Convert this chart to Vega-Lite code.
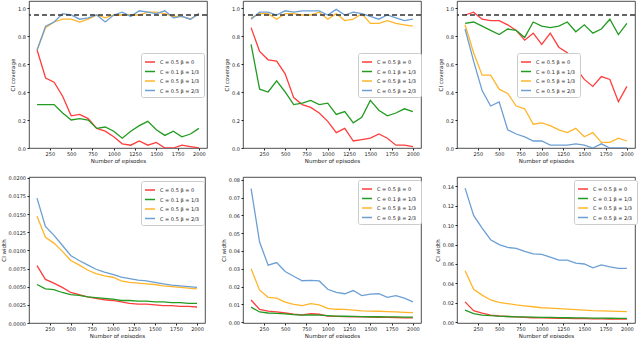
{
  "$schema": "https://vega.github.io/schema/vega-lite/v6.json",
  "padding": 0,
  "background": "white",
  "config": {
    "font": "DejaVu Sans",
    "view": {"stroke": "#222", "strokeWidth": 0.8},
    "axis": {"domain": false, "grid": false, "labelFontSize": 5, "titleFontSize": 5.5, "titleFontWeight": "normal", "labelColor": "#222", "titleColor": "#222", "tickColor": "#222", "tickSize": 2, "labelPadding": 1.5, "titlePadding": 2, "labelOverlap": false, "labelFlush": false, "labelBound": false},
    "legend": {"orient": "none", "title": null, "fillColor": "white", "strokeColor": "#cccccc", "cornerRadius": 2, "padding": 3, "labelFontSize": 5, "symbolType": "stroke", "symbolSize": 100, "symbolStrokeWidth": 1.5, "rowPadding": 0.5, "labelOffset": 4, "labelColor": "#222"}
  },
  "datasets": {
    "d": [
      {"p":"A","x":100,"r":0.70,"g":0.31,"o":0.70,"b":0.70},
      {"p":"A","x":200,"r":0.50,"g":0.31,"o":0.86,"b":0.87},
      {"p":"A","x":300,"r":0.47,"g":0.31,"o":0.90,"b":0.90},
      {"p":"A","x":400,"r":0.37,"g":0.25,"o":0.92,"b":0.96},
      {"p":"A","x":500,"r":0.23,"g":0.20,"o":0.92,"b":0.95},
      {"p":"A","x":600,"r":0.24,"g":0.21,"o":0.90,"b":0.92},
      {"p":"A","x":700,"r":0.21,"g":0.20,"o":0.92,"b":0.93},
      {"p":"A","x":800,"r":0.14,"g":0.14,"o":0.95,"b":0.95},
      {"p":"A","x":900,"r":0.12,"g":0.15,"o":0.93,"b":0.90},
      {"p":"A","x":1000,"r":0.08,"g":0.12,"o":0.95,"b":0.95},
      {"p":"A","x":1100,"r":0.03,"g":0.07,"o":0.95,"b":0.97},
      {"p":"A","x":1200,"r":0.02,"g":0.12,"o":0.95,"b":0.94},
      {"p":"A","x":1300,"r":0.05,"g":0.16,"o":0.95,"b":0.98},
      {"p":"A","x":1400,"r":0.02,"g":0.19,"o":0.97,"b":0.97},
      {"p":"A","x":1500,"r":0.04,"g":0.13,"o":0.97,"b":0.96},
      {"p":"A","x":1600,"r":0.00,"g":0.09,"o":0.96,"b":0.98},
      {"p":"A","x":1700,"r":0.00,"g":0.12,"o":0.94,"b":0.93},
      {"p":"A","x":1800,"r":0.02,"g":0.08,"o":0.94,"b":0.94},
      {"p":"A","x":1900,"r":0.01,"g":0.10,"o":0.92,"b":0.92},
      {"p":"A","x":2000,"r":0.00,"g":0.14,"o":0.96,"b":0.96},

      {"p":"B","x":100,"r":0.86,"g":0.74,"o":0.93,"b":0.92},
      {"p":"B","x":200,"r":0.69,"g":0.42,"o":0.96,"b":0.97},
      {"p":"B","x":300,"r":0.63,"g":0.40,"o":0.96,"b":0.97},
      {"p":"B","x":400,"r":0.62,"g":0.48,"o":0.92,"b":0.95},
      {"p":"B","x":500,"r":0.53,"g":0.40,"o":0.96,"b":0.98},
      {"p":"B","x":600,"r":0.36,"g":0.31,"o":0.96,"b":0.97},
      {"p":"B","x":700,"r":0.31,"g":0.32,"o":0.95,"b":0.98},
      {"p":"B","x":800,"r":0.29,"g":0.34,"o":0.95,"b":0.98},
      {"p":"B","x":900,"r":0.25,"g":0.31,"o":0.97,"b":0.98},
      {"p":"B","x":1000,"r":0.19,"g":0.32,"o":0.92,"b":0.95},
      {"p":"B","x":1100,"r":0.11,"g":0.24,"o":0.96,"b":0.99},
      {"p":"B","x":1200,"r":0.14,"g":0.26,"o":0.91,"b":0.95},
      {"p":"B","x":1300,"r":0.05,"g":0.18,"o":0.92,"b":0.97},
      {"p":"B","x":1400,"r":0.06,"g":0.22,"o":0.96,"b":0.96},
      {"p":"B","x":1500,"r":0.07,"g":0.34,"o":0.89,"b":0.94},
      {"p":"B","x":1600,"r":0.10,"g":0.27,"o":0.89,"b":0.92},
      {"p":"B","x":1700,"r":0.07,"g":0.23,"o":0.91,"b":0.95},
      {"p":"B","x":1800,"r":0.02,"g":0.25,"o":0.89,"b":0.93},
      {"p":"B","x":1900,"r":0.02,"g":0.28,"o":0.88,"b":0.91},
      {"p":"B","x":2000,"r":0.01,"g":0.26,"o":0.87,"b":0.92},

      {"p":"C","x":100,"r":0.95,"g":0.89,"o":0.88,"b":0.85},
      {"p":"C","x":200,"r":0.97,"g":0.90,"o":0.68,"b":0.62},
      {"p":"C","x":300,"r":0.92,"g":0.87,"o":0.52,"b":0.41},
      {"p":"C","x":400,"r":0.91,"g":0.84,"o":0.52,"b":0.30},
      {"p":"C","x":500,"r":0.91,"g":0.81,"o":0.42,"b":0.33},
      {"p":"C","x":600,"r":0.88,"g":0.85,"o":0.39,"b":0.13},
      {"p":"C","x":700,"r":0.84,"g":0.84,"o":0.30,"b":0.10},
      {"p":"C","x":800,"r":0.77,"g":0.79,"o":0.28,"b":0.08},
      {"p":"C","x":900,"r":0.82,"g":0.90,"o":0.17,"b":0.05},
      {"p":"C","x":1000,"r":0.74,"g":0.87,"o":0.18,"b":0.05},
      {"p":"C","x":1100,"r":0.82,"g":0.86,"o":0.16,"b":0.02},
      {"p":"C","x":1200,"r":0.72,"g":0.87,"o":0.13,"b":0.02},
      {"p":"C","x":1300,"r":0.68,"g":0.90,"o":0.11,"b":0.02},
      {"p":"C","x":1400,"r":0.57,"g":0.83,"o":0.14,"b":0.03},
      {"p":"C","x":1500,"r":0.49,"g":0.88,"o":0.08,"b":0.02},
      {"p":"C","x":1600,"r":0.44,"g":0.82,"o":0.11,"b":0.00},
      {"p":"C","x":1700,"r":0.51,"g":0.85,"o":0.04,"b":0.03},
      {"p":"C","x":1800,"r":0.49,"g":0.92,"o":0.04,"b":0.00},
      {"p":"C","x":1900,"r":0.33,"g":0.81,"o":0.07,"b":0.00},
      {"p":"C","x":2000,"r":0.44,"g":0.89,"o":0.05,"b":0.00},

      {"p":"D","x":100,"r":0.0079,"g":0.0053,"o":0.0147,"b":0.0172},
      {"p":"D","x":200,"r":0.0060,"g":0.0047,"o":0.0118,"b":0.0133},
      {"p":"D","x":300,"r":0.0055,"g":0.0046,"o":0.0110,"b":0.0121},
      {"p":"D","x":400,"r":0.0049,"g":0.0042,"o":0.0099,"b":0.0107},
      {"p":"D","x":500,"r":0.0042,"g":0.0039,"o":0.0086,"b":0.0093},
      {"p":"D","x":600,"r":0.0039,"g":0.0038,"o":0.0080,"b":0.0086},
      {"p":"D","x":700,"r":0.0036,"g":0.0036,"o":0.0073,"b":0.0080},
      {"p":"D","x":800,"r":0.0034,"g":0.0035,"o":0.0068,"b":0.0074},
      {"p":"D","x":900,"r":0.0032,"g":0.0034,"o":0.0065,"b":0.0070},
      {"p":"D","x":1000,"r":0.0031,"g":0.0033,"o":0.0063,"b":0.0067},
      {"p":"D","x":1100,"r":0.0029,"g":0.0031,"o":0.0058,"b":0.0063},
      {"p":"D","x":1200,"r":0.0027,"g":0.0031,"o":0.0056,"b":0.0061},
      {"p":"D","x":1300,"r":0.0026,"g":0.0030,"o":0.0055,"b":0.0059},
      {"p":"D","x":1400,"r":0.0026,"g":0.0030,"o":0.0054,"b":0.0058},
      {"p":"D","x":1500,"r":0.0025,"g":0.0029,"o":0.0053,"b":0.0056},
      {"p":"D","x":1600,"r":0.0024,"g":0.0029,"o":0.0051,"b":0.0054},
      {"p":"D","x":1700,"r":0.0024,"g":0.0028,"o":0.0050,"b":0.0052},
      {"p":"D","x":1800,"r":0.0023,"g":0.0028,"o":0.0049,"b":0.0051},
      {"p":"D","x":1900,"r":0.0023,"g":0.0027,"o":0.0048,"b":0.0050},
      {"p":"D","x":2000,"r":0.0022,"g":0.0027,"o":0.0047,"b":0.0049},

      {"p":"E","x":100,"r":0.0125,"g":0.0085,"o":0.030,"b":0.075},
      {"p":"E","x":200,"r":0.0072,"g":0.0058,"o":0.018,"b":0.045},
      {"p":"E","x":300,"r":0.0063,"g":0.0052,"o":0.014,"b":0.032},
      {"p":"E","x":400,"r":0.0058,"g":0.0050,"o":0.0135,"b":0.0335},
      {"p":"E","x":500,"r":0.0052,"g":0.0047,"o":0.0113,"b":0.0285},
      {"p":"E","x":600,"r":0.0045,"g":0.0043,"o":0.0100,"b":0.0258},
      {"p":"E","x":700,"r":0.0042,"g":0.0040,"o":0.0094,"b":0.0233},
      {"p":"E","x":800,"r":0.0048,"g":0.0042,"o":0.0105,"b":0.0235},
      {"p":"E","x":900,"r":0.0045,"g":0.0040,"o":0.0098,"b":0.0232},
      {"p":"E","x":1000,"r":0.0035,"g":0.0037,"o":0.0078,"b":0.0185},
      {"p":"E","x":1100,"r":0.0033,"g":0.0035,"o":0.0073,"b":0.0168},
      {"p":"E","x":1200,"r":0.0032,"g":0.0034,"o":0.0072,"b":0.0160},
      {"p":"E","x":1300,"r":0.0030,"g":0.0033,"o":0.0068,"b":0.0178},
      {"p":"E","x":1400,"r":0.0030,"g":0.0032,"o":0.0064,"b":0.0150},
      {"p":"E","x":1500,"r":0.0029,"g":0.0031,"o":0.0063,"b":0.0158},
      {"p":"E","x":1600,"r":0.0028,"g":0.0031,"o":0.0062,"b":0.0160},
      {"p":"E","x":1700,"r":0.0027,"g":0.0030,"o":0.0060,"b":0.0140},
      {"p":"E","x":1800,"r":0.0026,"g":0.0030,"o":0.0058,"b":0.0150},
      {"p":"E","x":1900,"r":0.0025,"g":0.0029,"o":0.0056,"b":0.0135},
      {"p":"E","x":2000,"r":0.0025,"g":0.0029,"o":0.0054,"b":0.0115},

      {"p":"F","x":100,"r":0.021,"g":0.0125,"o":0.053,"b":0.138},
      {"p":"F","x":200,"r":0.012,"g":0.0090,"o":0.034,"b":0.110},
      {"p":"F","x":300,"r":0.0095,"g":0.0075,"o":0.028,"b":0.097},
      {"p":"F","x":400,"r":0.0075,"g":0.0068,"o":0.023,"b":0.085},
      {"p":"F","x":500,"r":0.0065,"g":0.0063,"o":0.0205,"b":0.080},
      {"p":"F","x":600,"r":0.0060,"g":0.0060,"o":0.0192,"b":0.077},
      {"p":"F","x":700,"r":0.0055,"g":0.0057,"o":0.018,"b":0.076},
      {"p":"F","x":800,"r":0.0050,"g":0.0055,"o":0.017,"b":0.073},
      {"p":"F","x":900,"r":0.0047,"g":0.0053,"o":0.016,"b":0.0705},
      {"p":"F","x":1000,"r":0.0045,"g":0.0051,"o":0.015,"b":0.070},
      {"p":"F","x":1100,"r":0.0043,"g":0.0050,"o":0.0145,"b":0.067},
      {"p":"F","x":1200,"r":0.0041,"g":0.0049,"o":0.014,"b":0.064},
      {"p":"F","x":1300,"r":0.0040,"g":0.0047,"o":0.0135,"b":0.064},
      {"p":"F","x":1400,"r":0.0038,"g":0.0046,"o":0.013,"b":0.061},
      {"p":"F","x":1500,"r":0.0037,"g":0.0045,"o":0.0125,"b":0.060},
      {"p":"F","x":1600,"r":0.0036,"g":0.0044,"o":0.012,"b":0.056},
      {"p":"F","x":1700,"r":0.0035,"g":0.0043,"o":0.0118,"b":0.059},
      {"p":"F","x":1800,"r":0.0034,"g":0.0042,"o":0.0115,"b":0.057},
      {"p":"F","x":1900,"r":0.0033,"g":0.0041,"o":0.0112,"b":0.0555},
      {"p":"F","x":2000,"r":0.0032,"g":0.0040,"o":0.011,"b":0.0555}
    ]
  },
  "resolve": {"scale": {"color": "independent"}, "legend": {"color": "independent"}},
  "columns": 3,
  "bounds": "flush",
  "spacing": {"column": 36, "row": 29},
  "concat": [
    {"width": 178, "height": 147, "layer": [
      {"data": {"name": "d"}, "transform": [{"filter": "datum.p == 'A'"}, {"fold": ["r", "g", "o", "b"], "as": ["s", "v"]}],
       "mark": {"type": "line", "strokeWidth": 1.3, "clip": true},
       "encoding": {
         "x": {"field": "x", "type": "quantitative", "scale": {"domain": [5, 2095], "nice": false}, "axis": {"values": [250, 500, 750, 1000, 1250, 1500, 1750, 2000], "tickCount": 10, "format": "d", "title": "Number of episodes"}},
         "y": {"field": "v", "type": "quantitative", "scale": {"domain": [0, 1.05], "nice": false}, "axis": {"values": [0, 0.2, 0.4, 0.6, 0.8, 1], "tickCount": 10, "labelOverlap": false, "format": ".1f", "title": "CI coverage"}},
         "color": {"field": "s", "type": "nominal", "sort": null, "scale": {"domain": ["r", "g", "o", "b"], "range": ["#ff3d3d", "#239b23", "#ffb52a", "#6c9fd3"]},
           "legend": {"legendX": 112, "legendY": 52, "labelExpr": "datum.label == 'r' ? 'C = 0.5  β = 0' : datum.label == 'g' ? 'C = 0.1  β = 1/3' : datum.label == 'o' ? 'C = 0.5  β = 1/3' : 'C = 0.5  β = 2/3'"}}
       }},
      {"data": {"values": [{"c": 0.95}]}, "mark": {"type": "rule", "strokeDash": [5, 3], "strokeWidth": 1.3, "color": "#333"}, "encoding": {"y": {"field": "c", "type": "quantitative"}}}
    ]},
    {"width": 178, "height": 147, "layer": [
      {"data": {"name": "d"}, "transform": [{"filter": "datum.p == 'B'"}, {"fold": ["r", "g", "o", "b"], "as": ["s", "v"]}],
       "mark": {"type": "line", "strokeWidth": 1.3, "clip": true},
       "encoding": {
         "x": {"field": "x", "type": "quantitative", "scale": {"domain": [5, 2095], "nice": false}, "axis": {"values": [250, 500, 750, 1000, 1250, 1500, 1750, 2000], "tickCount": 10, "format": "d", "title": "Number of episodes"}},
         "y": {"field": "v", "type": "quantitative", "scale": {"domain": [0, 1.05], "nice": false}, "axis": {"values": [0, 0.2, 0.4, 0.6, 0.8, 1], "tickCount": 10, "labelOverlap": false, "format": ".1f", "title": "CI coverage"}},
         "color": {"field": "s", "type": "nominal", "sort": null, "scale": {"domain": ["r", "g", "o", "b"], "range": ["#ff3d3d", "#239b23", "#ffb52a", "#6c9fd3"]},
           "legend": {"legendX": 115, "legendY": 52, "labelExpr": "datum.label == 'r' ? 'C = 0.5  β = 0' : datum.label == 'g' ? 'C = 0.1  β = 1/3' : datum.label == 'o' ? 'C = 0.5  β = 1/3' : 'C = 0.5  β = 2/3'"}}
       }},
      {"data": {"values": [{"c": 0.95}]}, "mark": {"type": "rule", "strokeDash": [5, 3], "strokeWidth": 1.3, "color": "#333"}, "encoding": {"y": {"field": "c", "type": "quantitative"}}}
    ]},
    {"width": 178, "height": 147, "layer": [
      {"data": {"name": "d"}, "transform": [{"filter": "datum.p == 'C'"}, {"fold": ["r", "g", "o", "b"], "as": ["s", "v"]}],
       "mark": {"type": "line", "strokeWidth": 1.3, "clip": true},
       "encoding": {
         "x": {"field": "x", "type": "quantitative", "scale": {"domain": [5, 2095], "nice": false}, "axis": {"values": [250, 500, 750, 1000, 1250, 1500, 1750, 2000], "tickCount": 10, "format": "d", "title": "Number of episodes"}},
         "y": {"field": "v", "type": "quantitative", "scale": {"domain": [0, 1.05], "nice": false}, "axis": {"values": [0, 0.2, 0.4, 0.6, 0.8, 1], "tickCount": 10, "labelOverlap": false, "format": ".1f", "title": "CI coverage"}},
         "color": {"field": "s", "type": "nominal", "sort": null, "scale": {"domain": ["r", "g", "o", "b"], "range": ["#ff3d3d", "#239b23", "#ffb52a", "#6c9fd3"]},
           "legend": {"legendX": 60, "legendY": 52, "labelExpr": "datum.label == 'r' ? 'C = 0.5  β = 0' : datum.label == 'g' ? 'C = 0.1  β = 1/3' : datum.label == 'o' ? 'C = 0.5  β = 1/3' : 'C = 0.5  β = 2/3'"}}
       }},
      {"data": {"values": [{"c": 0.95}]}, "mark": {"type": "rule", "strokeDash": [5, 3], "strokeWidth": 1.3, "color": "#333"}, "encoding": {"y": {"field": "c", "type": "quantitative"}}}
    ]},
    {"width": 176, "height": 146, "layer": [
      {"data": {"name": "d"}, "transform": [{"filter": "datum.p == 'D'"}, {"fold": ["r", "g", "o", "b"], "as": ["s", "v"]}],
       "mark": {"type": "line", "strokeWidth": 1.3, "clip": true},
       "encoding": {
         "x": {"field": "x", "type": "quantitative", "scale": {"domain": [5, 2095], "nice": false}, "axis": {"values": [250, 500, 750, 1000, 1250, 1500, 1750, 2000], "tickCount": 10, "format": "d", "title": "Number of episodes"}},
         "y": {"field": "v", "type": "quantitative", "scale": {"domain": [0, 0.0201], "nice": false}, "axis": {"values": [0, 0.0025, 0.005, 0.0075, 0.01, 0.0125, 0.015, 0.0175, 0.02], "tickCount": 10, "format": ".4f", "title": "CI width"}},
         "color": {"field": "s", "type": "nominal", "sort": null, "scale": {"domain": ["r", "g", "o", "b"], "range": ["#ff3d3d", "#239b23", "#ffb52a", "#6c9fd3"]},
           "legend": {"legendX": 112, "legendY": 4, "labelExpr": "datum.label == 'r' ? 'C = 0.5  β = 0' : datum.label == 'g' ? 'C = 0.1  β = 1/3' : datum.label == 'o' ? 'C = 0.5  β = 1/3' : 'C = 0.5  β = 2/3'"}}
       }}
    ]},
    {"width": 178, "height": 146, "layer": [
      {"data": {"name": "d"}, "transform": [{"filter": "datum.p == 'E'"}, {"fold": ["r", "g", "o", "b"], "as": ["s", "v"]}],
       "mark": {"type": "line", "strokeWidth": 1.3, "clip": true},
       "encoding": {
         "x": {"field": "x", "type": "quantitative", "scale": {"domain": [5, 2095], "nice": false}, "axis": {"values": [250, 500, 750, 1000, 1250, 1500, 1750, 2000], "tickCount": 10, "format": "d", "title": "Number of episodes"}},
         "y": {"field": "v", "type": "quantitative", "scale": {"domain": [-0.0004, 0.0815], "nice": false}, "axis": {"values": [0, 0.01, 0.02, 0.03, 0.04, 0.05, 0.06, 0.07, 0.08], "tickCount": 10, "format": ".2f", "title": "CI width"}},
         "color": {"field": "s", "type": "nominal", "sort": null, "scale": {"domain": ["r", "g", "o", "b"], "range": ["#ff3d3d", "#239b23", "#ffb52a", "#6c9fd3"]},
           "legend": {"legendX": 115, "legendY": 3, "labelExpr": "datum.label == 'r' ? 'C = 0.5  β = 0' : datum.label == 'g' ? 'C = 0.1  β = 1/3' : datum.label == 'o' ? 'C = 0.5  β = 1/3' : 'C = 0.5  β = 2/3'"}}
       }}
    ]},
    {"width": 178, "height": 146, "layer": [
      {"data": {"name": "d"}, "transform": [{"filter": "datum.p == 'F'"}, {"fold": ["r", "g", "o", "b"], "as": ["s", "v"]}],
       "mark": {"type": "line", "strokeWidth": 1.3, "clip": true},
       "encoding": {
         "x": {"field": "x", "type": "quantitative", "scale": {"domain": [5, 2095], "nice": false}, "axis": {"values": [250, 500, 750, 1000, 1250, 1500, 1750, 2000], "tickCount": 10, "format": "d", "title": "Number of episodes"}},
         "y": {"field": "v", "type": "quantitative", "scale": {"domain": [-0.0007, 0.1495], "nice": false}, "axis": {"values": [0, 0.02, 0.04, 0.06, 0.08, 0.1, 0.12, 0.14], "tickCount": 10, "format": ".2f", "title": "CI width"}},
         "color": {"field": "s", "type": "nominal", "sort": null, "scale": {"domain": ["r", "g", "o", "b"], "range": ["#ff3d3d", "#239b23", "#ffb52a", "#6c9fd3"]},
           "legend": {"legendX": 117, "legendY": 3, "labelExpr": "datum.label == 'r' ? 'C = 0.5  β = 0' : datum.label == 'g' ? 'C = 0.1  β = 1/3' : datum.label == 'o' ? 'C = 0.5  β = 1/3' : 'C = 0.5  β = 2/3'"}}
       }}
    ]}
  ]
}
